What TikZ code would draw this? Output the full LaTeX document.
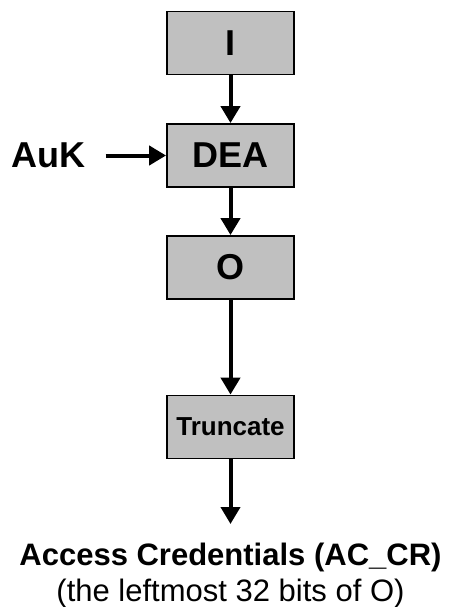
\documentclass[tikz,border=0pt]{standalone}
\usepackage{fontspec}
\setmainfont{Liberation Sans}
\usetikzlibrary{arrows.meta}

\definecolor{cajagris}{RGB}{192,192,192}

\tikzset{
  caja/.style={draw=black, line width=1.8pt, fill=cajagris, minimum width=127pt,
    minimum height=63pt, inner sep=0pt, font=\fontsize{36}{40}\selectfont\bfseries},
  flecha/.style={line width=4pt, -{Triangle[length=17pt,width=19pt]}}
}

\begin{document}
\begin{tikzpicture}[x=1pt, y=-1pt]

    \useasboundingbox (0, 0) rectangle (449, 607);

    % Cajas
    \node[caja] (i) at (230.5, 43) {I};
    \node[caja] (dea) at (230.5, 155.5) {DEA};
    \node[caja] (o) at (230.5, 267.5) {O};
    \node[caja, font=\fontsize{26}{30}\selectfont\bfseries] (trunc) at (230.5, 427) {Truncate};

    % Entrada y salida
    \node[inner sep=0pt, font=\fontsize{36}{40}\selectfont\bfseries] (auk) at (48.5, 155.5) {AuK};
    \coordinate (salida) at (230.5, 524);
    \node[inner sep=0pt, align=center, anchor=base, font=\fontsize{31}{36}\selectfont] (acr)
      at (230.5, 601) {\textbf{Access Credentials (AC\_CR)}\\(the leftmost 32 bits of O)};

    % Flechas
    \draw[flecha] (i) -- (dea);
    \draw[flecha] (dea) -- (o);
    \draw[flecha] (o) -- (trunc);
    \draw[flecha] (trunc) -- (salida);
    \draw[flecha, shorten <=20pt] (auk) -- (dea);

  \end{tikzpicture}
\end{document}
